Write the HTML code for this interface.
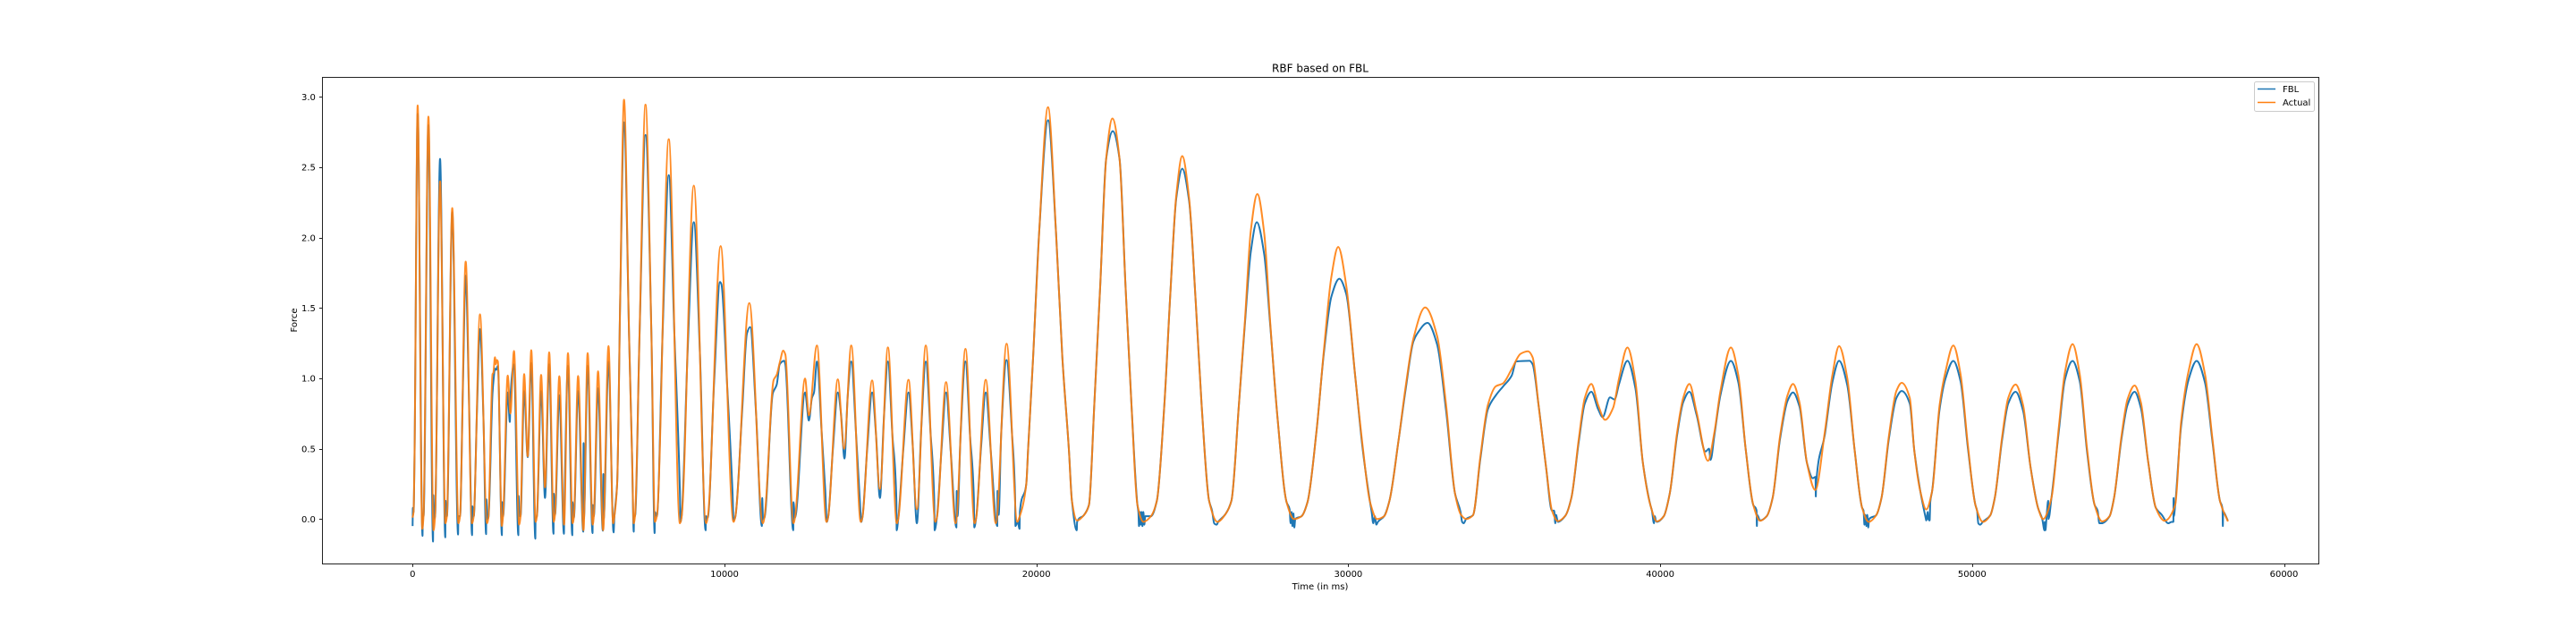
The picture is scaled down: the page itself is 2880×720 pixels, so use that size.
<!DOCTYPE html>
<html lang="en">
<head>
<meta charset="utf-8">
<title>RBF based on FBL</title>
<style>
html,body{margin:0;padding:0;background:#fff;width:2880px;height:720px;overflow:hidden}
svg{display:block}
text{font-family:"DejaVu Sans","Liberation Sans",sans-serif;fill:#000}
</style>
</head>
<body>
<svg id="chart" xmlns="http://www.w3.org/2000/svg" width="2880" height="720" viewBox="0 0 2880 720">
  <rect x="0" y="0" width="2880" height="720" fill="#fff"/>
  <text x="1476" y="80.5" font-size="12" text-anchor="middle">RBF based on FBL</text>
  <g id="ticks"></g>
  <g id="series"></g>
  <rect x="360.5" y="86.5" width="2232" height="544" fill="none" stroke="#222" stroke-width="1"/>
  <text x="1476" y="659" font-size="10" text-anchor="middle">Time (in ms)</text>
  <text x="332" y="358" font-size="10" text-anchor="middle" transform="rotate(-90 332 358)">Force</text>
  <g>
    <rect x="2520.5" y="91.5" width="67" height="33" rx="2" fill="#fff" fill-opacity="0.8" stroke="#ccc" stroke-width="1"/>
    <line x1="2524" y1="99.5" x2="2544" y2="99.5" stroke="#1f77b4" stroke-width="1.5"/>
    <text x="2552" y="103" font-size="10">FBL</text>
    <line x1="2524" y1="114.5" x2="2544" y2="114.5" stroke="#ff7f0e" stroke-width="1.5"/>
    <text x="2552" y="118" font-size="10">Actual</text>
  </g>
</svg>
<script>
const xTickValues=[0,10000,20000,30000,40000,50000,60000];
const xTickLabels=["0","10000","20000","30000","40000","50000","60000"];
const yTickValues=[0,0.5,1,1.5,2,2.5,3];
const yTickLabels=["0.0","0.5","1.0","1.5","2.0","2.5","3.0"];

const actualTime=[
0,30,60,162,310,350,507,670,720,880,1050,1100,1271,1470,1520,1702,1905,1960,2160,2385,2430,
2562,2590,2640,2670,2700,2734,2860,2900,3050,3136,3250,3415,3460,3576,3690,3805,3945,3985,
4120,4245,4379,4525,4565,4704,4857,4981,5130,5170,5306,5478,5612,5775,5810,5946,6109,6281,6430,6470,
6558,6654,6778,6941,7036,7090,7130,7275,7467,7658,7770,7830,8213,8570,8620,9016,9410,9460,9877,10290,10340,10795,11230,11280,
11578,11674,11780,11883,11950,12210,12260,12583,12706,12964,13270,13320,13634,13834,14064,14370,14420,14733,14983,15240,15525,15570,
15900,16167,16454,16760,16810,17104,17410,17726,18020,18070,18376,18700,19045,19390,19450,
19676,19733,19895,20087,20373,20631,20832,21043,21139,21302,21521,
21685,21856,22047,22237,22438,22666,22857,23049,23240,23434,23672,
23862,24102,24294,24485,24676,24896,25107,25298,25537,25805,26062,
26253,26492,26683,26875,27085,27305,27496,27735,28022,28261,28500,
28692,28979,29218,29457,29676,29934,30220,30460,30698,30919,31148,
31320,31606,31845,32085,32465,32849,33136,33423,33614,33777,33997,
34236,34475,34733,34953,35240,35527,35766,35910,36101,36340,36531,36722,36961,
37152,37391,37582,37793,38012,38233,38491,38682,38950,39206,39445,39685,39896,40116,
40306,40546,40737,40938,41167,41531,41741,41932,42267,42507,42745,42985,43204,43415,
43605,43844,44083,44259,44466,44705,44972,45280,45519,45736,46000,46235,46475,46683,46925,
47096,47333,47573,47743,48003,48146,48338,48530,48720,48959,49150,49399,49630,49868,50107,50345,50585,
50728,50967,51158,51396,51635,51874,52114,52276,52545,52785,52976,53223,53451,53691,53930,54170,54409,
54552,54791,54982,55212,55412,55651,55891,56175,56512,56702,56941,57200,57468,57707,57946,58203
];
const actualForce=[
.01,.05,.42,2.94,-.07,.02,2.86,-.08,.02,2.40,-.03,.02,2.21,-.03,.02,1.83,-.03,.02,1.455,-.03,.01,
1.03,1.04,1.15,1.1,1.13,1.12,-.05,.02,1.02,.75,1.195,-.04,.02,1.03,.445,1.2,-.02,.02,
1.025,.225,1.185,-.02,.03,1.015,-.04,1.18,-.03,.01,1.017,-.08,1.18,-.04,.02,1.05,-.08,1.23,-.03,.02,
.25,1.54,2.98,1.3,.45,-.03,.02,1.3,2.945,1.3,-.02,.02,2.70,-.03,.01,2.37,-.03,.01,1.94,-.02,.01,1.535,-.03,.01,
.99,1.025,1.12,1.197,1.17,-.03,.01,.998,.737,1.234,-.02,.01,.993,.5,1.234,-.02,.01,.985,.214,1.22,-.03,0,
.99,.07,1.234,-.02,.01,.973,-.03,1.21,-.03,.01,.99,-.03,1.246,-.02,.01,
.25,.49,1.15,2.03,2.927,2.03,1.15,.49,.13,-.01,.027,
.1,.81,1.66,2.56,2.847,2.56,1.66,.81,.1,-.02,.02,
.13,.81,1.6,2.3,2.58,2.28,1.55,.81,.13,-.02,.035,
.13,.81,1.4,2.05,2.31,2.03,1.4,.71,.12,0,.02,
.12,.62,1.2,1.72,1.934,1.66,1.02,.52,.12,0,.02,
.13,.55,.95,1.28,1.504,1.30,.81,.18,.03,0,.027,
.445,.81,.944,.963,1.066,1.175,1.192,1.15,.81,.37,.06,-.015,.024,
.15,.57,.86,.96,.81,.705,.79,1.0,1.219,.98,.4,.1,-.017,.02,
.18,.62,.86,.96,.76,.414,.62,.91,1.219,1.02,.49,.1,-.012,.02,
.15,.59,.88,.96,.83,.4,.207,.62,1.02,1.229,1.0,.49,.08,-.02,.027,
.15,.59,.91,.968,.86,.49,.2,.068,.2,.81,1.05,1.234,1.03,.52,.1,-.02,.027,
.15,.59,.86,.956,.81,.37,.08,0,.15,.66,1.04,1.243,1.03,.49,.1,-.017,.02,
.15,.59,.85,.949,.83,.4,.08,-.012,.1,.69,1.05,1.243,1.03,.57,.13,-.017
];

const fblTime=[
0,8,30,60,162,318,328,350,507,655,665,690,720,880,1048,1056,1080,1100,1271,1458,1468,1520,1611,1702,1803,1907,1917,1960,2060,2160,2272,2356,2366,2395,2430,
2562,2600,2640,2680,2734,2863,2870,2900,3050,3117,3140,3250,3390,3397,3425,3460,3576,3690,3805,3935,3942,3985,
4120,4245,4379,4518,4526,4565,4704,4852,4862,4981,5120,5128,5170,5306,5472,5482,5490,5612,5770,5778,5810,5946,6100,6115,6125,6281,6444,6470,
6558,6654,6778,6941,7036,7090,7100,7130,7275,7467,7658,7760,7770,7830,8021,8213,8391,8567,8590,8620,8818,9016,9213,9395,9405,9460,9668,9857,9900,10083,10259,10290,10340,10567,10720,10823,11012,
11200,11210,11235,11280,11550,11674,11770,11913,11950,12205,12212,12260,12583,12706,12803,12870,12964,13117,13232,13280,13320,13477,13634,13734,13848,13949,14064,14217,14340,14385,14420,14576,14733,14858,14983,15111,15240,15382,
15510,15520,15570,15735,15900,16033,16167,16310,16454,16607,16725,16737,16810,16957,17104,17257,17435,17445,17470,17568,17726,17873,17995,18008,18070,18223,18376,18538,18745,18752,18790,18872,19045,19217,19318,19328,19400,19460,19470,
19676,19733,19895,20087,20373,20631,20832,21043,21139,21295,21305,21521,
21685,21856,22047,22237,22448,22666,22857,23049,23240,23270,23290,23320,23345,23370,23400,23430,23460,23490,23672,
23862,24102,24294,24485,24676,24896,25107,25298,25537,25632,25700,25780,25830,26062,
26253,26492,26683,26875,27066,27305,27496,27735,28022,28118,28150,28180,28210,28240,28270,28300,28500,
28692,28979,29218,29457,29714,29934,30220,30460,30698,30750,30800,30850,30900,30950,31148,
31320,31606,31845,32085,32200,32540,32849,33136,33423,33600,33650,33700,33777,33997,
34236,34475,34733,34953,35240,35384,35814,35910,36101,36340,36531,36600,36636,36660,36722,36961,
37152,37391,37582,37793,38012,38155,38393,38537,38682,38950,39206,39445,39685,39735,39800,39830,39860,39896,40116,
40306,40546,40737,40938,41167,41453,41567,41615,41741,41932,42267,42507,42745,42985,43090,43100,43110,43204,43415,
43605,43844,44083,44259,44466,44705,44896,44980,44990,45000,45280,45519,45736,46000,46235,46475,46520,46550,46580,46610,46640,46670,46700,46925,
47096,47333,47573,47743,48003,48146,48338,48520,48530,48580,48600,48640,48660,48720,48959,49150,49399,49630,49868,50107,50160,50200,50260,50345,50585,
50728,50967,51158,51396,51635,51874,52114,52250,52322,52330,52350,52400,52440,52450,52545,52785,52976,53223,53451,53691,53930,54025,54080,54150,54409,
54552,54791,54982,55212,55412,55651,55891,56083,56291,56400,56455,56460,56470,56512,56702,56941,57200,57468,57707,57946,58030,58040,58050,58200
];
const fblForce=[
-.05,.08,.05,.42,2.88,-.12,.02,.02,2.8,-.16,.17,0,.02,2.56,-.13,.13,.02,.02,2.18,-.11,.02,.02,.925,1.73,.9,-.115,.09,.02,.74,1.35,.71,-.107,.14,0,.01,
.895,1.0,1.07,1.06,1.09,-.115,.12,.02,.9,.69,.88,1.1,-.115,.165,.02,.02,.91,.44,1.11,-.14,0,.02,
.91,.15,1.1,-.105,.18,.03,.88,-.105,.02,1.09,-.115,.12,.01,.91,-.09,.54,0,1.09,-.1,.1,.02,.93,-.083,.32,0,1.12,-.095,.02,
.25,1.54,2.82,1.3,.45,-.09,.02,.02,1.3,2.73,1.3,-.1,.05,.02,1.36,2.445,1.33,.22,-.02,.01,1.19,2.11,1.17,-.08,.02,.01,.975,1.685,1.67,.96,.18,-.01,.01,.77,1.32,1.365,.75,
-.05,.15,0,.01,.895,.955,1.10,1.125,1.1,-.08,.12,.01,.9,.7,.86,.9,1.12,.61,.2,-.02,.01,.5,.9,.75,.43,.87,1.12,.61,.13,-.02,.01,.5,.9,.6,.15,.72,1.12,.6,
.14,-.08,0,.5,.9,.53,-.03,.65,1.12,.61,.13,-.08,.01,.49,.9,.47,-.06,.2,.02,.59,1.12,.59,.15,-.06,.01,.5,.9,.48,-.05,.2,.03,.61,1.13,.61,.15,-.05,-.02,-.07,.05,
.25,.49,1.15,2.03,2.835,2.03,1.15,.49,.13,-.08,-.02,.027,
.1,.81,1.66,2.56,2.757,2.56,1.66,.81,.1,.05,-.05,.05,-.04,.05,-.05,.05,-.04,.02,.02,
.13,.81,1.6,2.28,2.49,2.26,1.55,.81,.13,.06,-.03,-.04,-.02,.035,
.13,.81,1.38,1.9,2.11,1.88,1.38,.71,.12,.07,-.03,.05,-.05,.04,-.06,0,.02,
.12,.62,1.18,1.58,1.708,1.6,1.02,.5,.12,.05,-.03,.02,-.04,-.02,.02,
.13,.55,.93,1.26,1.314,1.394,1.24,.77,.18,.05,-.02,-.03,0,.027,
.43,.78,.88,.94,1.02,1.12,1.125,1.1,.81,.37,.06,.06,-.03,.03,-.02,.024,
.15,.55,.82,.905,.78,.725,.865,.85,.96,1.125,.93,.4,.1,.06,-.03,.02,-.01,-.02,.02,
.18,.6,.83,.905,.74,.48,.5,.42,.6,.88,1.124,.97,.49,.1,.06,-.05,.03,-.01,.02,
.15,.57,.84,.9,.8,.4,.29,.3,.16,.25,.6,.97,1.125,.95,.49,.08,.06,-.04,.03,-.05,.03,-.06,0,.027,
.15,.57,.86,.91,.82,.49,.2,0,-.01,.05,0,-.01,.12,.2,.78,1.0,1.124,.98,.5,.1,.06,-.03,-.04,-.02,.027,
.15,.57,.82,.905,.77,.37,.08,0,-.08,-.02,-.08,.05,.13,0,.15,.63,.99,1.124,.98,.47,.1,.06,-.03,-.03,.02,
.15,.57,.81,.905,.79,.4,.08,.03,-.03,-.02,-.02,.15,.02,.1,.66,.99,1.124,.97,.55,.13,.07,-.05,.05,-.01
];

const svgNS="http://www.w3.org/2000/svg";
const PLOT_TOP=86.4,PLOT_BOTTOM=630.4,PLOT_LEFT=360.4;
function xScale(t){return 461.3+t*0.03487;}
function yScale(f){return 580.3-f*157.3;}

function monotonePath(ts,fs){
  const n=Math.min(ts.length,fs.length);
  const xs=[],ys=[];
  for(let i=0;i<n;i++){xs.push(xScale(ts[i]));ys.push(yScale(fs[i]));}
  const slopes=[],tang=[];
  for(let i=0;i<n-1;i++){const dx=xs[i+1]-xs[i];slopes.push(dx===0?0:(ys[i+1]-ys[i])/dx);}
  for(let i=0;i<n;i++){
    if(i===0)tang.push(slopes[0]);
    else if(i===n-1)tang.push(slopes[n-2]);
    else{
      const a=slopes[i-1],b=slopes[i];
      if(a*b<=0)tang.push(0);
      else{const w1=2*(xs[i+1]-xs[i])+(xs[i]-xs[i-1]),w2=(xs[i+1]-xs[i])+2*(xs[i]-xs[i-1]);tang.push((w1+w2)/(w1/a+w2/b));}
    }
  }
  let d="M"+xs[0].toFixed(2)+" "+ys[0].toFixed(2);
  for(let i=0;i<n-1;i++){
    const h=(xs[i+1]-xs[i])/3;
    d+="C"+(xs[i]+h).toFixed(2)+" "+(ys[i]+tang[i]*h).toFixed(2)+" "+(xs[i+1]-h).toFixed(2)+" "+(ys[i+1]-tang[i+1]*h).toFixed(2)+" "+xs[i+1].toFixed(2)+" "+ys[i+1].toFixed(2);
  }
  return d;
}

const ticksGroup=document.getElementById("ticks");
xTickValues.forEach(function(v,i){
  const x=Math.round(xScale(v))+0.5;
  const tick=document.createElementNS(svgNS,"line");
  
  
  tick.setAttribute("x1",x);tick.setAttribute("x2",x);
  tick.setAttribute("y1",PLOT_BOTTOM);tick.setAttribute("y2",PLOT_BOTTOM+3.5);
  tick.setAttribute("stroke","#222");tick.setAttribute("stroke-width","1");
  ticksGroup.appendChild(tick);
  const label=document.createElementNS(svgNS,"text");
  
  
  label.setAttribute("x",xScale(v));label.setAttribute("y",PLOT_BOTTOM+14.5);
  label.setAttribute("font-size","10");label.setAttribute("text-anchor","middle");
  label.textContent=xTickLabels[i];
  ticksGroup.appendChild(label);
});
yTickValues.forEach(function(v,i){
  const y=Math.round(yScale(v))+0.5;
  const tick=document.createElementNS(svgNS,"line");
  
  
  tick.setAttribute("x1",PLOT_LEFT-3.5);tick.setAttribute("x2",PLOT_LEFT);
  tick.setAttribute("y1",y);tick.setAttribute("y2",y);
  tick.setAttribute("stroke","#222");tick.setAttribute("stroke-width","1");
  ticksGroup.appendChild(tick);
  const label=document.createElementNS(svgNS,"text");
  
  
  label.setAttribute("x",PLOT_LEFT-7.5);label.setAttribute("y",yScale(v)+3.6);
  label.setAttribute("font-size","10");label.setAttribute("text-anchor","end");
  label.textContent=yTickLabels[i];
  ticksGroup.appendChild(label);
});

const seriesGroup=document.getElementById("series");
const fblLine=document.createElementNS(svgNS,"path");


fblLine.setAttribute("d",monotonePath(fblTime,fblForce));
fblLine.setAttribute("fill","none");
fblLine.setAttribute("stroke","#1f77b4");
fblLine.setAttribute("stroke-width","2");
fblLine.setAttribute("stroke-linejoin","round");
seriesGroup.appendChild(fblLine);
const actualLine=document.createElementNS(svgNS,"path");


actualLine.setAttribute("d",monotonePath(actualTime,actualForce));
actualLine.setAttribute("fill","none");
actualLine.setAttribute("stroke","#ff7f0e");
actualLine.setAttribute("stroke-width","2");
actualLine.setAttribute("stroke-opacity","0.9");
actualLine.setAttribute("stroke-linejoin","round");
seriesGroup.appendChild(actualLine);
</script>
</body>
</html>
